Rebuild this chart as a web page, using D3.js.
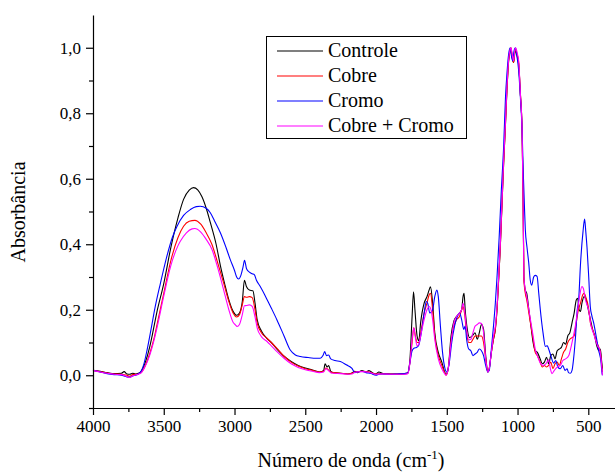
<!DOCTYPE html>
<html>
<head>
<meta charset="utf-8">
<script src="https://cdn.jsdelivr.net/npm/d3@7"></script>
<style>
  body { margin: 0; background: #fff; }
</style>
</head>
<body>
<svg id="chart" width="615" height="472"></svg>
<script>
// espectros FTIR: [numero de onda, absorbancia]
const controle = [
  [4000,0.015],[3950,0.012],[3900,0.008],[3850,0.005],[3800,0.006],[3780,0.011],[3760,0.004],[3740,0.003],
  [3720,0.006],[3700,0.004],[3680,0.006],[3660,0.012],[3630,0.04],[3600,0.085],[3580,0.125],[3550,0.19],
  [3500,0.28],[3450,0.39],[3400,0.48],[3360,0.537],[3320,0.565],[3290,0.573],[3260,0.566],[3230,0.545],
  [3200,0.51],[3170,0.465],[3130,0.4],[3100,0.335],[3070,0.28],[3040,0.23],[3010,0.195],[2985,0.183],
  [2965,0.19],[2945,0.225],[2930,0.29],[2915,0.27],[2895,0.26],[2870,0.258],[2855,0.22],[2840,0.17],
  [2810,0.135],[2770,0.112],[2740,0.1],[2700,0.08],[2650,0.058],[2600,0.042],[2550,0.03],[2500,0.022],
  [2450,0.016],[2400,0.01],[2370,0.015],[2360,0.035],[2345,0.025],[2335,0.03],[2320,0.012],[2300,0.008],
  [2250,0.006],[2200,0.004],[2170,0.007],[2150,0.012],[2130,0.008],[2100,0.014],[2070,0.01],[2050,0.014],
  [2020,0.006],[2000,0.004],[1980,0.01],[1950,0.005],[1900,0.004],[1850,0.004],[1800,0.005],[1775,0.008],
  [1760,0.05],[1745,0.18],[1735,0.255],[1725,0.2],[1710,0.12],[1698,0.105],[1685,0.16],[1660,0.22],
  [1640,0.24],[1625,0.26],[1615,0.27],[1600,0.22],[1585,0.13],[1560,0.07],[1535,0.04],[1515,0.01],
  [1505,0.002],[1490,0.02],[1470,0.12],[1450,0.165],[1430,0.18],[1410,0.19],[1395,0.2],[1385,0.24],
  [1378,0.25],[1370,0.2],[1355,0.14],[1340,0.115],[1320,0.12],[1300,0.13],[1285,0.11],[1270,0.13],
  [1255,0.155],[1240,0.14],[1225,0.06],[1210,0.01],[1200,0.02],[1185,0.07],[1170,0.11],[1157,0.14],
  [1145,0.2],[1135,0.28],[1122,0.39],[1110,0.52],[1098,0.65],[1087,0.75],[1075,0.87],[1063,0.96],
  [1052,0.99],[1046,0.995],[1038,0.97],[1028,0.955],[1020,0.98],[1012,0.99],[1003,0.975],[992,0.95],
  [980,0.86],[968,0.75],[961,0.55],[955,0.3],[945,0.26],[935,0.25],[920,0.2],[905,0.15],[890,0.1],
  [875,0.075],[860,0.07],[840,0.05],[825,0.035],[810,0.04],[795,0.055],[780,0.035],[765,0.06],[750,0.065],
  [735,0.05],[720,0.075],[705,0.08],[690,0.085],[675,0.1],[660,0.095],[645,0.12],[630,0.13],[615,0.16],
  [600,0.19],[585,0.23],[575,0.235],[565,0.2],[555,0.195],[545,0.22],[530,0.24],[515,0.23],[500,0.2],
  [485,0.17],[470,0.14],[455,0.12],[440,0.09],[425,0.075],[415,0.08],[405,0.04],[400,0.02]
];

const cobre = [
  [4000,0.015],[3950,0.011],[3900,0.007],[3850,0.004],[3800,0.003],[3760,0.0],[3740,-0.003],[3720,0.002],
  [3700,0.003],[3680,0.004],[3660,0.008],[3630,0.03],[3600,0.065],[3570,0.11],[3540,0.17],[3500,0.25],
  [3450,0.35],[3400,0.42],[3360,0.455],[3320,0.47],[3280,0.473],[3240,0.462],[3200,0.435],[3160,0.4],
  [3120,0.345],[3077,0.282],[3040,0.225],[3010,0.19],[2985,0.178],[2965,0.185],[2945,0.215],[2930,0.24],
  [2915,0.238],[2895,0.24],[2875,0.237],[2855,0.2],[2840,0.16],[2810,0.13],[2770,0.113],[2740,0.1],
  [2700,0.082],[2650,0.058],[2600,0.04],[2550,0.028],[2500,0.02],[2450,0.015],[2400,0.01],[2370,0.012],
  [2355,0.022],[2340,0.018],[2320,0.01],[2300,0.008],[2250,0.006],[2200,0.004],[2170,0.006],[2150,0.01],
  [2100,0.012],[2050,0.01],[2000,0.004],[1950,0.005],[1900,0.004],[1800,0.004],[1775,0.006],[1760,0.04],
  [1745,0.1],[1733,0.145],[1722,0.12],[1710,0.1],[1698,0.1],[1680,0.14],[1660,0.19],[1640,0.22],
  [1625,0.245],[1615,0.25],[1600,0.2],[1585,0.12],[1560,0.06],[1535,0.03],[1515,0.008],[1505,0.0],
  [1490,0.02],[1470,0.1],[1450,0.15],[1430,0.17],[1410,0.18],[1395,0.2],[1385,0.21],[1375,0.19],
  [1360,0.13],[1345,0.1],[1330,0.1],[1315,0.11],[1300,0.12],[1285,0.12],[1270,0.12],[1255,0.12],
  [1240,0.1],[1225,0.05],[1210,0.01],[1200,0.02],[1185,0.07],[1170,0.11],[1157,0.14],[1145,0.2],
  [1135,0.28],[1122,0.39],[1110,0.52],[1098,0.65],[1087,0.75],[1075,0.87],[1063,0.96],[1052,0.995],
  [1046,1.0],[1038,0.975],[1028,0.955],[1020,0.985],[1012,0.995],[1003,0.98],[992,0.955],[980,0.86],
  [968,0.75],[961,0.55],[955,0.29],[945,0.25],[935,0.23],[920,0.19],[905,0.15],[890,0.11],[875,0.07],
  [860,0.06],[840,0.04],[825,0.025],[810,0.03],[795,0.025],[780,0.03],[765,0.04],[750,0.02],[735,0.035],
  [720,0.04],[705,0.03],[690,0.05],[675,0.07],[660,0.08],[645,0.1],[630,0.11],[615,0.115],[600,0.12],
  [585,0.16],[570,0.2],[555,0.22],[540,0.245],[530,0.25],[515,0.235],[500,0.21],[485,0.16],[470,0.14],
  [455,0.12],[440,0.1],[425,0.085],[415,0.07],[405,0.03],[400,0.01]
];

const cromo = [
  [4000,0.015],[3950,0.01],[3900,0.005],[3850,0.002],[3800,0.0],[3760,-0.005],[3740,-0.006],[3720,-0.002],
  [3700,0.0],[3680,0.004],[3660,0.012],[3640,0.035],[3618,0.077],[3590,0.14],[3560,0.21],[3524,0.28],
  [3480,0.36],[3440,0.42],[3406,0.455],[3360,0.488],[3312,0.506],[3270,0.515],[3242,0.516],[3200,0.51],
  [3171,0.496],[3140,0.47],[3100,0.435],[3060,0.39],[3030,0.353],[3000,0.32],[2985,0.3],[2971,0.294],
  [2955,0.305],[2940,0.33],[2929,0.351],[2915,0.325],[2895,0.315],[2875,0.31],[2860,0.307],[2845,0.29],
  [2818,0.271],[2780,0.24],[2740,0.205],[2700,0.169],[2650,0.12],[2606,0.077],[2570,0.062],[2535,0.057],
  [2480,0.054],[2420,0.052],[2394,0.052],[2375,0.06],[2363,0.072],[2350,0.06],[2335,0.062],[2320,0.05],
  [2290,0.045],[2252,0.042],[2210,0.032],[2170,0.021],[2150,0.008],[2130,0.01],[2100,0.012],[2070,0.008],
  [2040,0.006],[2000,0.0],[1980,0.003],[1950,0.004],[1900,0.003],[1850,0.004],[1800,0.005],[1775,0.007],
  [1760,0.04],[1745,0.075],[1730,0.083],[1715,0.085],[1700,0.09],[1680,0.13],[1660,0.19],[1645,0.225],
  [1635,0.22],[1620,0.19],[1600,0.2],[1585,0.24],[1570,0.26],[1560,0.24],[1545,0.15],[1530,0.07],
  [1515,0.025],[1500,0.01],[1485,0.03],[1465,0.1],[1445,0.15],[1425,0.18],[1410,0.19],[1395,0.17],
  [1380,0.14],[1370,0.15],[1360,0.11],[1345,0.08],[1330,0.075],[1315,0.06],[1300,0.065],[1285,0.07],
  [1270,0.08],[1255,0.075],[1240,0.06],[1225,0.03],[1210,0.01],[1200,0.015],[1185,0.08],[1170,0.15],
  [1157,0.22],[1145,0.3],[1130,0.42],[1115,0.56],[1098,0.7],[1085,0.85],[1075,0.92],[1063,0.98],
  [1052,1.0],[1045,0.98],[1035,0.96],[1025,0.99],[1015,1.0],[1003,0.97],[992,0.93],[980,0.85],
  [968,0.75],[958,0.6],[950,0.5],[945,0.445],[933,0.39],[921,0.343],[910,0.29],[900,0.275],[886,0.3],
  [875,0.305],[862,0.302],[850,0.25],[839,0.2],[820,0.13],[803,0.088],[790,0.09],[780,0.08],[765,0.06],
  [745,0.037],[730,0.045],[715,0.025],[698,0.02],[680,0.03],[665,0.015],[650,0.02],[640,0.008],
  [627,0.006],[615,0.015],[604,0.05],[590,0.12],[578,0.2],[568,0.23],[556,0.333],[537,0.44],[526,0.477],
  [518,0.44],[509,0.39],[497,0.3],[486,0.21],[474,0.18],[462,0.16],[445,0.12],[427,0.077],[410,0.04],
  [403,0.006],[400,0.0]
];

const cobreCromo = [
  [4000,0.015],[3950,0.01],[3900,0.006],[3850,0.003],[3800,0.002],[3760,-0.004],[3740,-0.007],[3720,-0.002],
  [3700,0.001],[3680,0.003],[3660,0.007],[3630,0.028],[3600,0.06],[3570,0.105],[3540,0.16],[3501,0.24],
  [3450,0.335],[3400,0.395],[3383,0.409],[3340,0.435],[3300,0.447],[3280,0.448],[3240,0.438],[3200,0.415],
  [3159,0.384],[3120,0.33],[3077,0.261],[3040,0.2],[3010,0.162],[2994,0.154],[2982,0.149],[2965,0.155],
  [2945,0.185],[2930,0.212],[2915,0.213],[2895,0.215],[2875,0.21],[2855,0.178],[2840,0.145],[2810,0.118],
  [2770,0.103],[2740,0.09],[2700,0.072],[2650,0.052],[2600,0.035],[2550,0.024],[2500,0.017],[2450,0.012],
  [2400,0.008],[2370,0.01],[2355,0.02],[2340,0.016],[2320,0.008],[2300,0.006],[2250,0.005],[2200,0.003],
  [2170,0.004],[2150,0.009],[2100,0.011],[2050,0.009],[2000,0.003],[1950,0.004],[1900,0.003],[1800,0.003],
  [1775,0.005],[1760,0.04],[1745,0.11],[1733,0.145],[1722,0.115],[1710,0.09],[1698,0.095],[1680,0.13],
  [1660,0.17],[1640,0.2],[1625,0.21],[1615,0.205],[1600,0.17],[1585,0.11],[1560,0.05],[1535,0.02],
  [1515,0.005],[1505,0.0],[1490,0.02],[1470,0.1],[1450,0.16],[1430,0.18],[1410,0.19],[1395,0.2],
  [1385,0.22],[1375,0.2],[1360,0.14],[1345,0.108],[1330,0.11],[1315,0.13],[1300,0.15],[1285,0.155],
  [1270,0.16],[1255,0.158],[1240,0.13],[1225,0.05],[1210,0.01],[1200,0.02],[1185,0.07],[1170,0.12],
  [1157,0.15],[1145,0.21],[1135,0.29],[1122,0.4],[1110,0.53],[1098,0.66],[1087,0.76],[1075,0.88],
  [1063,0.965],[1052,0.995],[1046,1.0],[1038,0.98],[1028,0.96],[1020,0.99],[1012,1.0],[1003,0.985],
  [992,0.96],[980,0.86],[968,0.75],[961,0.55],[955,0.3],[945,0.26],[935,0.24],[920,0.2],[905,0.16],
  [890,0.12],[875,0.08],[860,0.06],[839,0.037],[820,0.03],[800,0.035],[780,0.047],[768,0.02],[757,0.005],
  [740,0.015],[720,0.025],[698,0.03],[680,0.045],[660,0.05],[638,0.06],[620,0.09],[605,0.12],[592,0.149],
  [575,0.2],[560,0.245],[545,0.271],[535,0.265],[520,0.23],[498,0.2],[480,0.15],[465,0.13],[450,0.11],
  [435,0.09],[420,0.08],[410,0.05],[400,0.0]
];

const seriesNames = ["Controle", "Cobre", "Cromo", "Cobre + Cromo"];
const seriesData = [controle, cobre, cromo, cobreCromo];
const seriesColors = ["#000000", "#ff0000", "#0000ff", "#ff00ff"];

const xMajor = [4000, 3500, 3000, 2500, 2000, 1500, 1000, 500];
const xMinor = [3750, 3250, 2750, 2250, 1750, 1250, 750];
const yMajor = [0, 0.2, 0.4, 0.6, 0.8, 1.0];
const yMinor = [-0.1, 0.1, 0.3, 0.5, 0.7, 0.9];

const FONT = "'Liberation Serif', 'Times New Roman', serif";
const svg = d3.select("#chart");

// escalas (eixo x invertido)
const x = d3.scaleLinear().domain([4000, 300]).range([93, 616.6]);
const y = d3.scaleLinear().domain([-0.1, 1.1]).range([408, 15]);

const fmt = d => d3.format(".1f")(d).replace(".", ",");

// linhas dos espectros
const line = d3.line()
    .x(d => x(d[0]))
    .y(d => y(d[1]))
    .curve(d3.curveMonotoneX);

svg.append("g")
    .selectAll("path")
    .data(seriesData)
    .join("path")
    .attr("d", line)
    .attr("fill", "none")
    .attr("stroke", (d, i) => seriesColors[i])
    .attr("stroke-width", 1.1)
    .attr("stroke-linejoin", "round");

// eixo x
svg.append("g")
    .attr("transform", "translate(0,408)")
    .call(d3.axisBottom(x).tickValues(xMajor).tickSize(7).tickSizeOuter(0).tickPadding(5).tickFormat(d3.format("d")));
svg.append("g")
    .attr("transform", "translate(0,408)")
    .call(d3.axisBottom(x).tickValues(xMinor).tickSize(4).tickSizeOuter(0).tickFormat(""))
    .select(".domain").remove();

// eixo y
svg.append("g")
    .attr("transform", "translate(93,0)")
    .call(d3.axisLeft(y).tickValues(yMajor).tickSize(7).tickSizeOuter(0).tickPadding(5).tickFormat(fmt));
svg.append("g")
    .attr("transform", "translate(93,0)")
    .call(d3.axisLeft(y).tickValues(yMinor).tickSize(4).tickSizeOuter(0).tickFormat(""))
    .select(".domain").remove();

svg.selectAll(".tick line, .domain").attr("stroke", "#000").attr("stroke-width", 1.2);
svg.selectAll(".tick text")
    .style("font-family", FONT)
    .style("font-size", "17px")
    .attr("fill", "#000");

// titulos dos eixos
svg.append("text")
    .attr("transform", "translate(25,212) rotate(-90)")
    .attr("text-anchor", "middle")
    .style("font-family", FONT)
    .style("font-size", "20px")
    .text("Absorbância");

const xt = svg.append("text")
    .attr("x", 351)
    .attr("y", 467)
    .attr("text-anchor", "middle")
    .style("font-family", FONT)
    .style("font-size", "20px");
xt.append("tspan").text("Número de onda (cm");
xt.append("tspan").attr("dy", -8).style("font-size", "13px").text("-1");
xt.append("tspan").attr("dy", 8).text(")");

// legenda
const legend = svg.append("g");
legend.append("rect")
    .attr("x", 266.5).attr("y", 36.5)
    .attr("width", 200).attr("height", 102)
    .attr("fill", "#fff")
    .attr("stroke", "#000")
    .attr("stroke-width", 1);

seriesNames.forEach((name, i) => {
    const cy = 51 + i * 25;
    legend.append("line")
        .attr("x1", 277).attr("x2", 323)
        .attr("y1", cy).attr("y2", cy)
        .attr("stroke", seriesColors[i])
        .attr("stroke-width", 1.1);
    legend.append("text")
        .attr("x", 328).attr("y", cy + 6)
        .style("font-family", FONT)
        .style("font-size", "20px")
        .text(name);
});
</script>
</body>
</html>
